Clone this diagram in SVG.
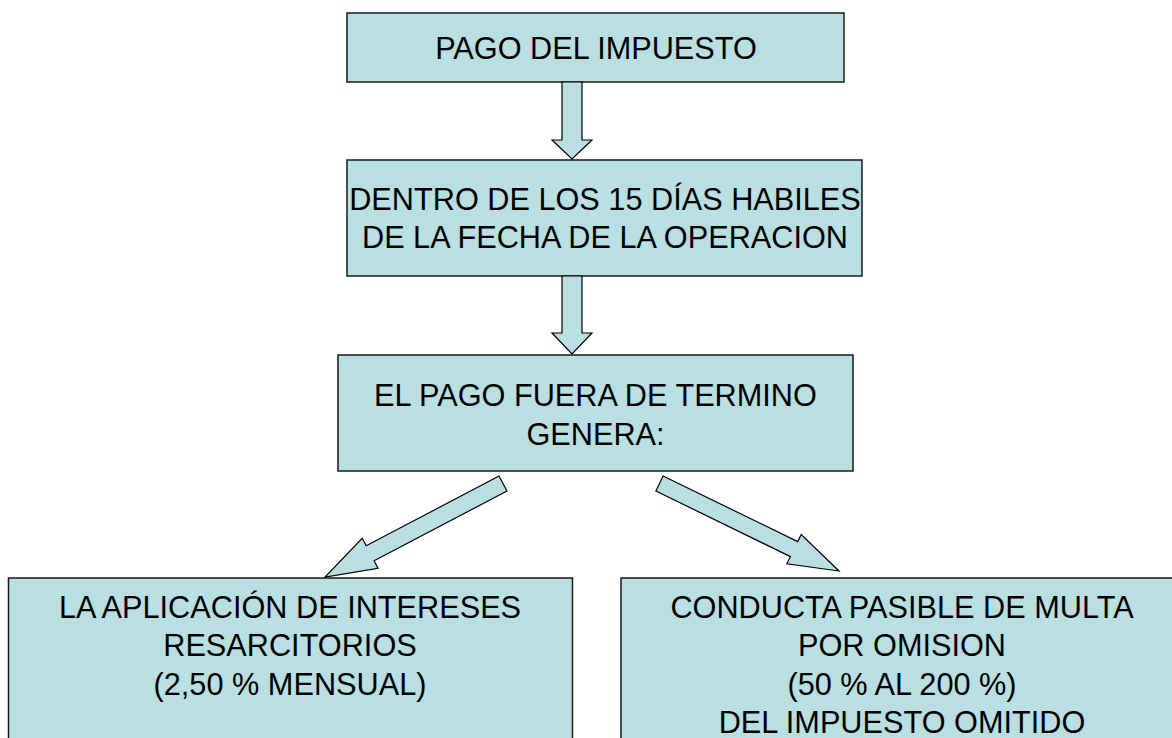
<svg xmlns="http://www.w3.org/2000/svg" width="1172" height="738" viewBox="0 0 1172 738">
<style>
.box{fill:#B9DFE2;stroke:#1a1a1a;stroke-width:1.5}
.arr{fill:#B9DFE2;stroke:#000;stroke-width:1.2;stroke-linejoin:miter}
.t{font-family:"Liberation Sans",Arial,sans-serif;font-size:30.7px;fill:#000;text-anchor:middle}
</style>
<rect width="1172" height="738" fill="#fff"/>
<g id="n1">
<rect class="box" x="347" y="13" width="497" height="69"/>
<text class="t" x="596" y="59">PAGO DEL IMPUESTO</text>
</g>
<g id="n2">
<rect class="box" x="347" y="160" width="515" height="116"/>
<text class="t" x="605" y="210">DENTRO DE LOS 15 DÍAS HABILES</text>
<text class="t" x="605" y="248">DE LA FECHA DE LA OPERACION</text>
</g>
<g id="n3">
<rect class="box" x="338" y="355" width="515" height="116"/>
<text class="t" x="595.5" y="406">EL PAGO FUERA DE TERMINO</text>
<text class="t" x="595.5" y="445">GENERA:</text>
</g>
<g id="n4">
<rect class="box" x="8.5" y="578" width="564" height="170"/>
<text class="t" x="290" y="618">LA APLICACIÓN DE INTERESES</text>
<text class="t" x="290" y="656">RESARCITORIOS</text>
<text class="t" x="290" y="695">(2,50 % MENSUAL)</text>
</g>
<g id="n5">
<rect class="box" x="621" y="578" width="562" height="170"/>
<text class="t" x="902" y="618">CONDUCTA PASIBLE DE MULTA</text>
<text class="t" x="902" y="656">POR OMISION</text>
<text class="t" x="902" y="695">(50 % AL 200 %)</text>
<text class="t" x="902" y="733">DEL IMPUESTO OMITIDO</text>
</g>
<g id="connectors">
<polygon class="arr" points="562,82 582,82 582,140 592,140 572,159 552,140 562,140"/>
<polygon class="arr" points="562,276 582,276 582,333 592,333 572,354 552,333 562,333"/>
<polygon class="arr" points="499,476 366.2,545.8 362.2,538.3 325,577 378,568.4 374.1,560.8 507,491"/>
<polygon class="arr" points="663.1,476 797.7,541.6 801.2,534.5 839,571 786.9,563.8 790.4,556.6 655.9,491"/>
</g>
</svg>
